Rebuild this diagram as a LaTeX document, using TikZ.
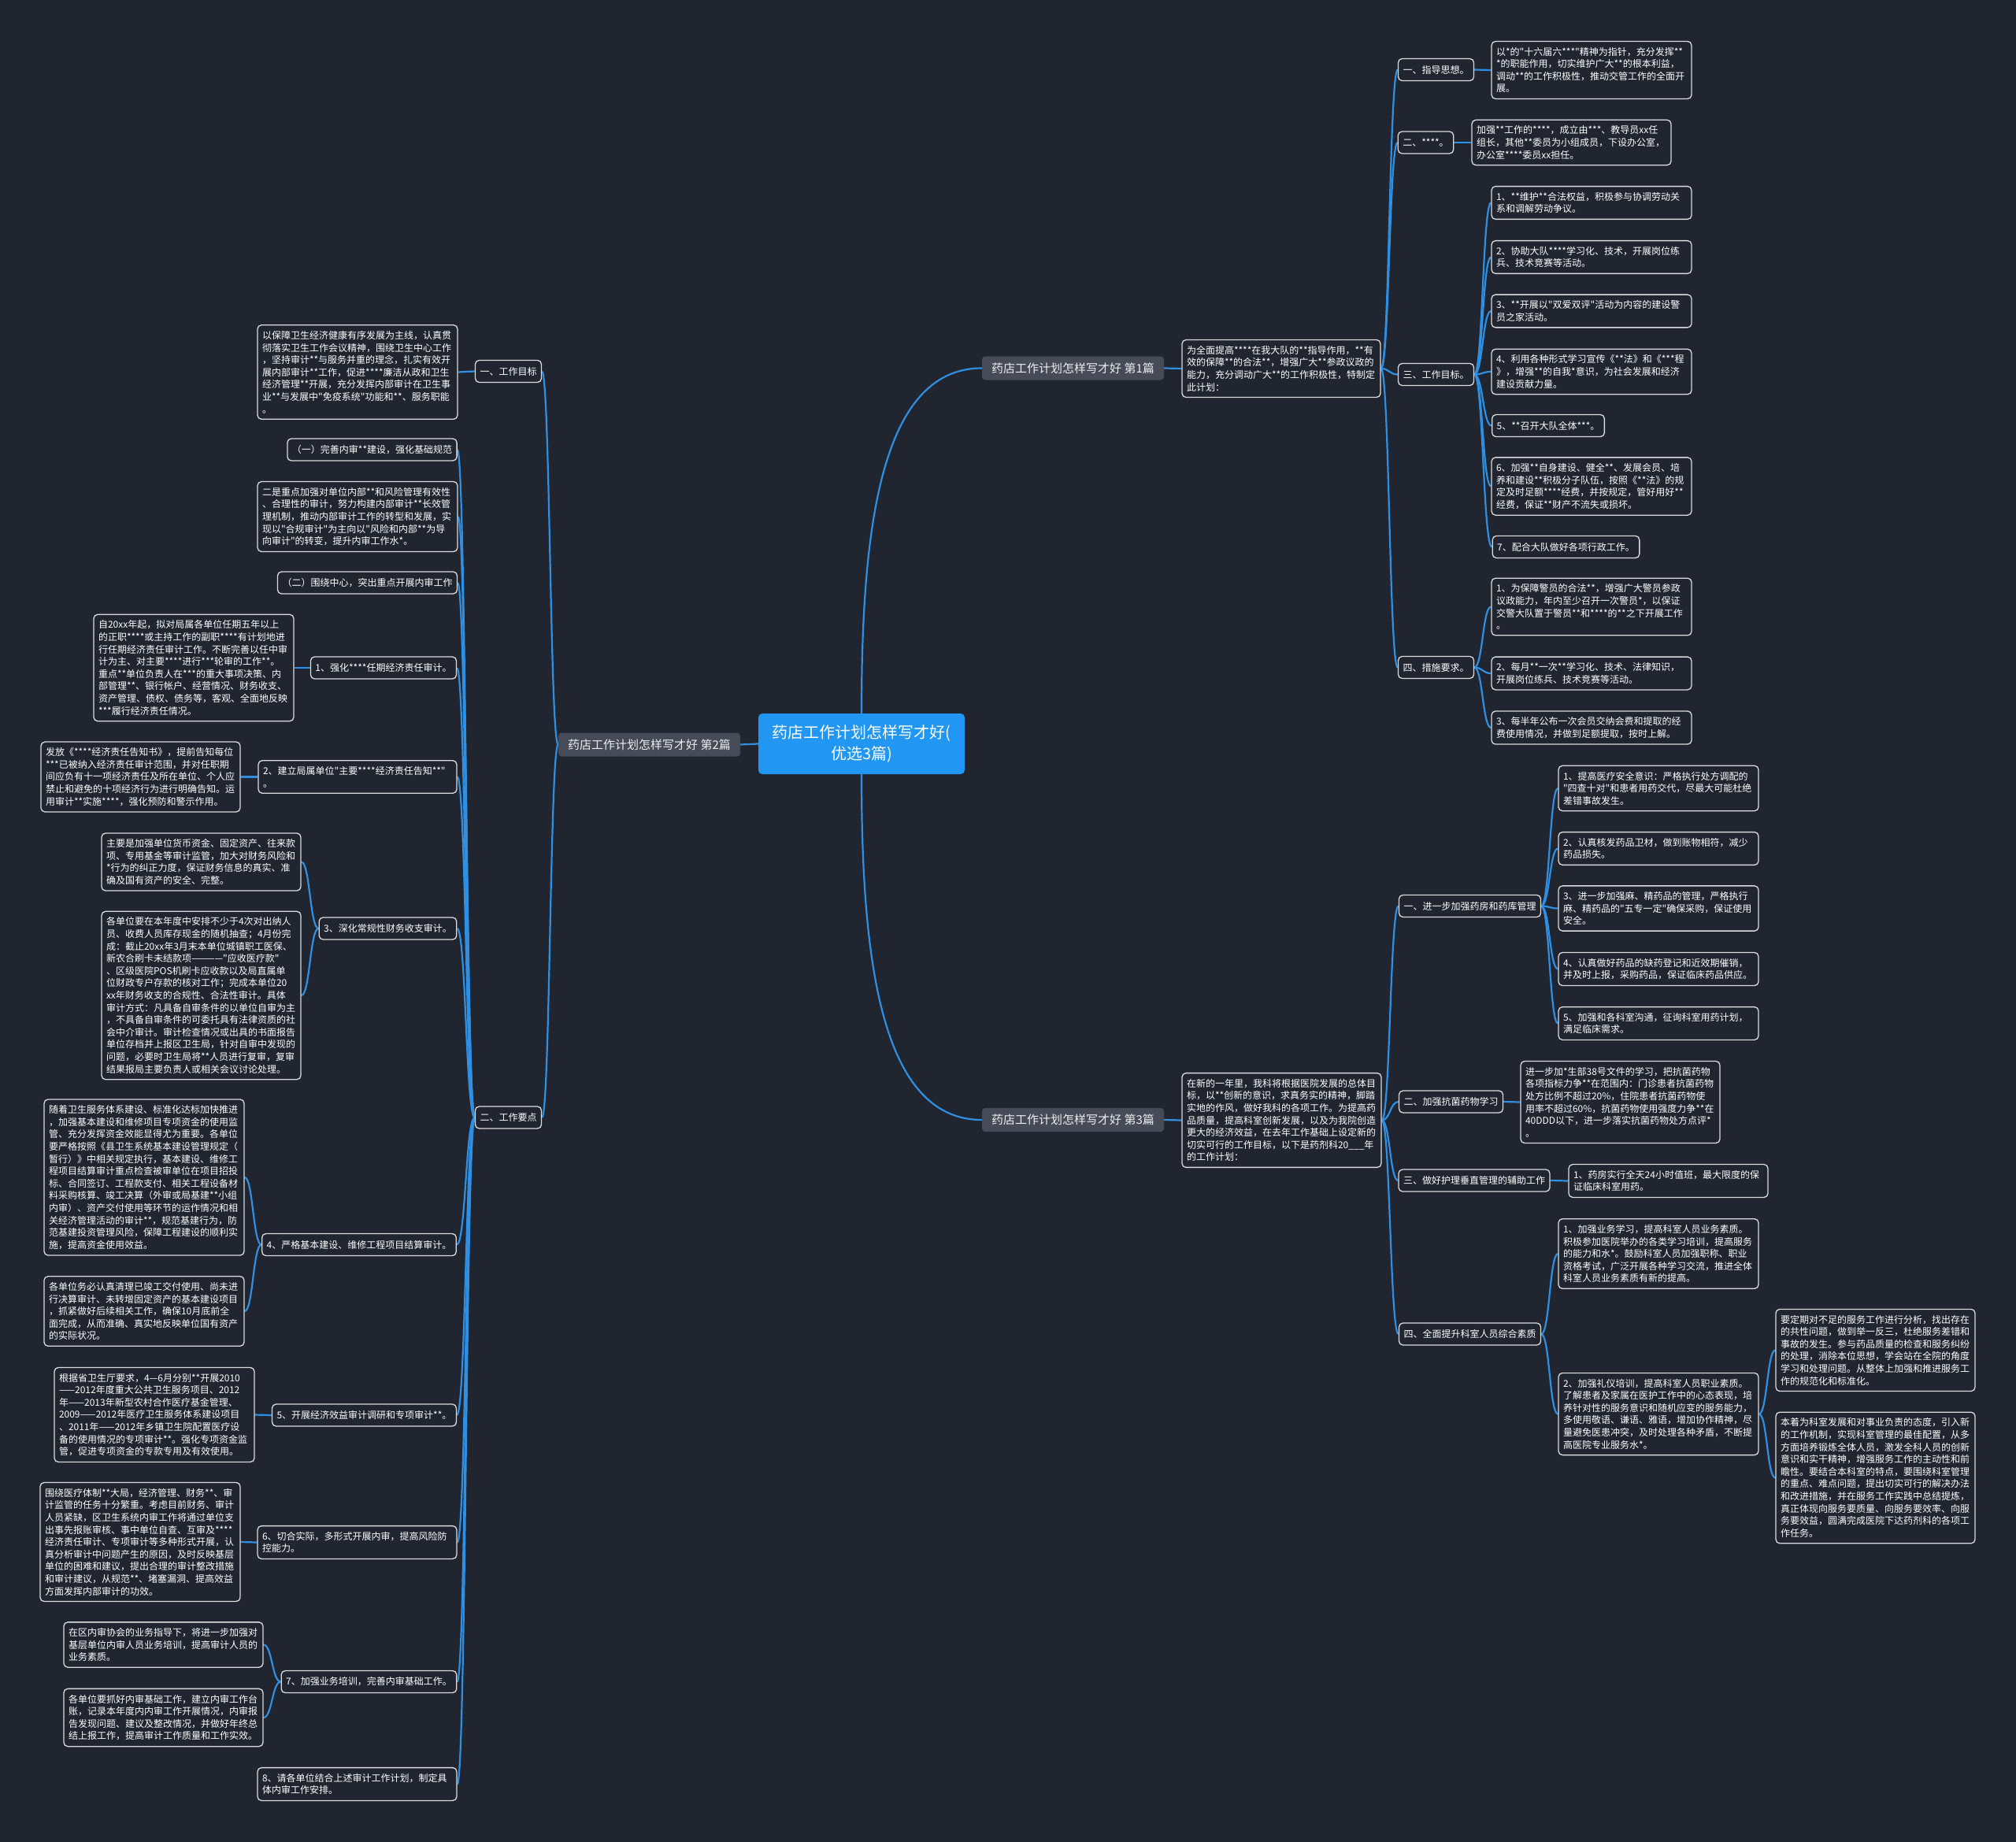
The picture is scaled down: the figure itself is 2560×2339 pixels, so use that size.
\documentclass[tikz,border=0pt]{standalone}
\usepackage{fontspec}
\setmainfont{Noto Sans CJK SC}[Ligatures=TeXOff]
\usetikzlibrary{calc}
\definecolor{bgc}{HTML}{21252F}
\definecolor{leafborder}{HTML}{DCDCDC}
\definecolor{leaffill}{HTML}{21252F}
\definecolor{branchfill}{HTML}{464B57}
\definecolor{branchtext}{HTML}{EEEEEE}
\definecolor{rootfill}{HTML}{2196F3}
\definecolor{conncolor}{HTML}{2F8FE3}
\pgfdeclarelayer{bglayer}
\pgfdeclarelayer{connlayer}
\pgfsetlayers{bglayer,connlayer,main}
\tikzset{
 leaf/.style={draw=leafborder, fill=leaffill, rounded corners=5pt, line width=1.3pt, text=white,
   font=\fontsize{12}{15.6}\selectfont, align=left, inner xsep=6pt, inner ysep=7.5pt},
 lw/.style={leaf, text width=242pt},
 sect/.style={leaf, minimum height=28pt},
 branch/.style={fill=branchfill, text=branchtext, rounded corners=4pt, font=\fontsize{15}{18}\selectfont,
   minimum height=30pt, minimum width=231pt, inner xsep=9pt},
 rootnode/.style={fill=rootfill, text=white, rounded corners=5pt, font=\fontsize{20}{27}\selectfont,
   align=center, minimum width=262pt, minimum height=77pt},
 conn/.style={draw=conncolor, line width=2.2pt}
}
\newcommand\rconn[2]{\draw[conn] (#1.east) .. controls ($(#1.east)!0.5!(#2.west|-#1.east)$) and ($(#2.west)!0.5!(#1.east|-#2.west)$) .. (#2.west);}
\newcommand\lconn[2]{\draw[conn] (#1.west) .. controls ($(#1.west)!0.5!(#2.east|-#1.west)$) and ($(#2.east)!0.5!(#1.west|-#2.east)$) .. (#2.east);}
\begin{document}
\begin{tikzpicture}[x=1pt,y=-1pt]
\useasboundingbox (0,0) rectangle (2560,2339);
\begin{pgfonlayer}{bglayer}
\fill[bgc] (0,0) rectangle (2560,2339);
\end{pgfonlayer}

% root and branches
\node[rootnode] (root) at (1094,944.5) {药店工作计划怎样写才好(\\优选3篇)};
\node[branch] (b1) at (1362.5,467.5) {药店工作计划怎样写才好 第1篇};
\node[branch] (b2) at (824.5,945.5) {药店工作计划怎样写才好 第2篇};
\node[branch] (b3) at (1362.5,1422) {药店工作计划怎样写才好 第3篇};

% ===== branch 1 =====
\node[leaf, text width=240pt] (m1) at (1627,468) {为全面提高****在我大队的**指导作用，**有\\效的保障**的合法**，增强广大**参政议政的\\能力，充分调动广大**的工作积极性，特制定\\此计划：};
\node[sect] (s1) at (1823.5,88.5) {一、指导思想。};
\node[sect] (s2) at (1810.5,181) {二、****。};
\node[sect] (s3) at (1823.5,475.5) {三、工作目标。};
\node[sect] (s4) at (1823.5,847.5) {四、措施要求。};
\node[lw] (l1) at (2021,89) {以*的"十六届六***"精神为指针，充分发挥**\\**的职能作用，切实维护广大**的根本利益，\\调动**的工作积极性，推动交管工作的全面开\\展。};
\node[leaf, text width=241pt] (l2) at (1995.5,181) {加强**工作的****，成立由***、教导员xx任\\组长，其他**委员为小组成员，下设办公室，\\办公室****委员xx担任。};
\node[lw] (i1) at (2021,257.5) {1、**维护**合法权益，积极参与协调劳动关\\系和调解劳动争议。};
\node[lw] (i2) at (2021,326.5) {2、协助大队****学习化、技术，开展岗位练\\兵、技术竞赛等活动。};
\node[lw] (i3) at (2021,395) {3、**开展以"双爱双评"活动为内容的建设警\\员之家活动。};
\node[lw] (i4) at (2021,472) {4、利用各种形式学习宣传《**法》和《***程\\》，增强**的自我*意识，为社会发展和经济\\建设贡献力量。};
\node[sect] (i5) at (1966,540.5) {5、**召开大队全体***。};
\node[lw] (i6) at (2021,617.5) {6、加强**自身建设、健全**、发展会员、培\\养和建设**积极分子队伍，按照《**法》的规\\定及时足额****经费，并按规定，管好用好**\\经费，保证**财产不流失或损坏。};
\node[sect] (i7) at (1988.5,694.5) {7、配合大队做好各项行政工作。};
\node[lw] (j1) at (2021,770.5) {1、为保障警员的合法**，增强广大警员参政\\议政能力，年内至少召开一次警员*，以保证\\交警大队置于警员**和****的**之下开展工作\\。};
\node[lw] (j2) at (2021,855) {2、每月**一次**学习化、技术、法律知识，\\开展岗位练兵、技术竞赛等活动。};
\node[lw] (j3) at (2021,924) {3、每半年公布一次会员交纳会费和提取的经\\费使用情况，并做到足额提取，按时上解。};

% ===== branch 3 =====
\node[leaf, text width=241pt] (m3) at (1627.5,1422.5) {在新的一年里，我科将根据医院发展的总体目\\标，以**创新的意识，求真务实的精神，脚踏\\实地的作风，做好我科的各项工作。为提高药\\品质量，提高科室创新发展，以及为我院创造\\更大的经济效益，在去年工作基础上设定新的\\切实可行的工作目标，以下是药剂科20\_\_\_年\\的工作计划：};
\node[sect] (t1) at (1866.5,1150.5) {一、进一步加强药房和药库管理};
\node[sect] (t2) at (1842.5,1399) {二、加强抗菌药物学习};
\node[sect] (t3) at (1872,1499) {三、做好护理垂直管理的辅助工作};
\node[sect] (t4) at (1866.5,1694) {四、全面提升科室人员综合素质};
\node[lw] (k1) at (2106,1001) {1、提高医疗安全意识：严格执行处方调配的\\"四查十对"和患者用药交代，尽最大可能杜绝\\差错事故发生。};
\node[lw] (k2) at (2106,1077.5) {2、认真核发药品卫材，做到账物相符，减少\\药品损失。};
\node[lw] (k3) at (2106,1153.5) {3、进一步加强麻、精药品的管理，严格执行\\麻、精药品的"五专一定"确保采购，保证使用\\安全。};
\node[lw] (k4) at (2106,1230.5) {4、认真做好药品的缺药登记和近效期催销，\\并及时上报，采购药品，保证临床药品供应。};
\node[lw] (k5) at (2106,1299.5) {5、加强和各科室沟通，征询科室用药计划，\\满足临床需求。};
\node[leaf, text width=241pt] (t2l) at (2057.5,1399.5) {进一步加*生部38号文件的学习，把抗菌药物\\各项指标力争**在范围内：门诊患者抗菌药物\\处方比例不超过20\%，住院患者抗菌药物使\\用率不超过60\%，抗菌药物使用强度力争**在\\40DDD以下，进一步落实抗菌药物处方点评*\\*。};
\node[leaf, text width=241pt] (t3l) at (2118.5,1499.5) {1、药房实行全天24小时值班，最大限度的保\\证临床科室用药。};
\node[lw] (t4a) at (2106,1592) {1、加强业务学习，提高科室人员业务素质。\\积极参加医院举办的各类学习培训，提高服务\\的能力和水*。鼓励科室人员加强职称、职业\\资格考试，广泛开展各种学习交流，推进全体\\科室人员业务素质有新的提高。};
\node[lw] (t4b) at (2106,1795.5) {2、加强礼仪培训，提高科室人员职业素质。\\了解患者及家属在医护工作中的心态表现，培\\养针对性的服务意识和随机应变的服务能力，\\多使用敬语、谦语、雅语，增加协作精神，尽\\量避免医患冲突，及时处理各种矛盾，不断提\\高医院专业服务水*。};
\node[leaf, text width=241pt] (r1) at (2381.5,1714.5) {要定期对不足的服务工作进行分析，找出存在\\的共性问题，做到举一反三，杜绝服务差错和\\事故的发生。参与药品质量的检查和服务纠纷\\的处理，消除本位思想，学会站在全院的角度\\学习和处理问题。从整体上加强和推进服务工\\作的规范化和标准化。};
\node[leaf, text width=241pt] (r2) at (2381.5,1876.5) {本着为科室发展和对事业负责的态度，引入新\\的工作机制，实现科室管理的最佳配置，从多\\方面培养锻炼全体人员，激发全科人员的创新\\意识和实干精神，增强服务工作的主动性和前\\瞻性。要结合本科室的特点，要围绕科室管理\\的重点、难点问题，提出切实可行的解决办法\\和改进措施，并在服务工作实践中总结提炼，\\真正体现向服务要质量、向服务要效率、向服\\务要效益，圆满完成医院下达药剂科的各项工\\作任务。};

% ===== branch 2 =====
\node[sect] (g1) at (645.5,471.5) {一、工作目标};
\node[sect] (g2) at (645.5,1419) {二、工作要点};
\node[lw] (w1) at (454,472.5) {以保障卫生经济健康有序发展为主线，认真贯\\彻落实卫生工作会议精神，围绕卫生中心工作\\，坚持审计**与服务并重的理念，扎实有效开\\展内部审计**工作，促进****廉洁从政和卫生\\经济管理**开展，充分发挥内部审计在卫生事\\业**与发展中"免疫系统"功能和**、服务职能\\。};
\node[sect] (c1) at (472.5,571) {（一）完善内审**建设，强化基础规范};
\node[lw] (c2) at (454,656) {二是重点加强对单位内部**和风险管理有效性\\、合理性的审计，努力构建内部审计**长效管\\理机制，推动内部审计工作的转型和发展，实\\现以"合规审计"为主向以"风险和内部**为导\\向审计"的转变，提升内审工作水*。};
\node[sect] (c3) at (466.5,740) {（二）围绕中心，突出重点开展内审工作};
\node[sect] (c4) at (487,848) {1、强化****任期经济责任审计。};
\node[lw] (d4) at (246,848) {自20xx年起，拟对局属各单位任期五年以上\\的正职****或主持工作的副职****有计划地进\\行任期经济责任审计工作。不断完善以任中审\\计为主、对主要****进行***轮审的工作**。\\重点**单位负责人在***的重大事项决策、内\\部管理**、银行帐户、经营情况、财务收支、\\资产管理、债权、债务等，客观、全面地反映\\****履行经济责任情况。};
\node[leaf, text width=240pt] (c5) at (454,986.5) {2、建立局属单位"主要****经济责任告知**"\\。};
\node[leaf, text width=241pt] (d5) at (178.5,986.5) {发放《****经济责任告知书》，提前告知每位\\****已被纳入经济责任审计范围，并对任职期\\间应负有十一项经济责任及所在单位、个人应\\禁止和避免的十项经济行为进行明确告知。运\\用审计**实施****，强化预防和警示作用。};
\node[sect] (c6) at (492.5,1179) {3、深化常规性财务收支审计。};
\node[leaf, text width=241pt] (d6a) at (255.5,1094.5) {主要是加强单位货币资金、固定资产、往来款\\项、专用基金等审计监管，加大对财务风险和\\**行为的纠正力度，保证财务信息的真实、准\\确及国有资产的安全、完整。};
\node[leaf, text width=241pt] (d6b) at (255.5,1264) {各单位要在本年度中安排不少于4次对出纳人\\员、收费人员库存现金的随机抽查；4月份完\\成：截止20xx年3月末本单位城镇职工医保、\\新农合刷卡未结款项————"应收医疗款"\\、区级医院POS机刷卡应收款以及局直属单\\位财政专户存款的核对工作；完成本单位20\\xx年财务收支的合规性、合法性审计。具体\\审计方式：凡具备自审条件的以单位自审为主\\，不具备自审条件的可委托具有法律资质的社\\会中介审计。审计检查情况或出具的书面报告\\单位存档并上报区卫生局，针对自审中发现的\\问题，必要时卫生局将**人员进行复审，复审\\结果报局主要负责人或相关会议讨论处理。};
\node[sect] (c7) at (456,1580.5) {4、严格基本建设、维修工程项目结算审计。};
\node[lw] (d7a) at (183,1495) {随着卫生服务体系建设、标准化达标加快推进\\，加强基本建设和维修项目专项资金的使用监\\管、充分发挥资金效能显得尤为重要。各单位\\要严格按照《县卫生系统基本建设管理规定（\\暂行）》中相关规定执行，基本建设、维修工\\程项目结算审计重点检查被审单位在项目招投\\标、合同签订、工程款支付、相关工程设备材\\料采购核算、竣工决算（外审或局基建**小组\\内审）、资产交付使用等环节的运作情况和相\\关经济管理活动的审计**，规范基建行为，防\\范基建投资管理风险，保障工程建设的顺利实\\施，提高资金使用效益。};
\node[lw] (d7b) at (183,1665) {各单位务必认真清理已竣工交付使用、尚未进\\行决算审计、未转增固定资产的基本建设项目\\，抓紧做好后续相关工作，确保10月底前全\\面完成，从而准确、真实地反映单位国有资产\\的实际状况。};
\node[sect] (c8) at (462.5,1797) {5、开展经济效益审计调研和专项审计**。};
\node[lw] (d8) at (196,1796.5) {根据省卫生厅要求，4—6月分别**开展2010\\——2012年度重大公共卫生服务项目、2012\\年——2013年新型农村合作医疗基金管理、\\2009——2012年医疗卫生服务体系建设项目\\、2011年——2012年乡镇卫生院配置医疗设\\备的使用情况的专项审计**。强化专项资金监\\管，促进专项资金的专款专用及有效使用。};
\node[leaf, text width=241pt] (c9) at (453.5,1958.5) {6、切合实际，多形式开展内审，提高风险防\\控能力。};
\node[lw] (d9) at (178,1958) {围绕医疗体制**大局，经济管理、财务**、审\\计监管的任务十分繁重。考虑目前财务、审计\\人员紧缺，区卫生系统内审工作将通过单位支\\出事先报账审核、事中单位自查、互审及****\\经济责任审计、专项审计等多种形式开展，认\\真分析审计中问题产生的原因，及时反映基层\\单位的困难和建议，提出合理的审计整改措施\\和审计建议，从规范**、堵塞漏洞、提高效益\\方面发挥内部审计的功效。};
\node[sect] (c10) at (468.5,2135.5) {7、加强业务培训，完善内审基础工作。};
\node[leaf, text width=241pt] (d10a) at (207.5,2088.5) {在区内审协会的业务指导下，将进一步加强对\\基层单位内审人员业务培训，提高审计人员的\\业务素质。};
\node[leaf, text width=241pt] (d10b) at (207.5,2181) {各单位要抓好内审基础工作，建立内审工作台\\账，记录本年度内内审工作开展情况，内审报\\告发现问题、建议及整改情况，并做好年终总\\结上报工作，提高审计工作质量和工作实效。};
\node[leaf, text width=241pt] (c11) at (453.5,2265.5) {8、请各单位结合上述审计工作计划，制定具\\体内审工作安排。};

% ===== connectors =====
\begin{pgfonlayer}{connlayer}
\draw[conn] (root.north) .. controls +(0,-230) and +(-130,0) .. (b1.west);
\draw[conn] (root.south) .. controls +(0,230) and +(-130,0) .. (b3.west);
\draw[conn] (root.west) -- (b2.east);
\rconn{b1}{m1}
\rconn{m1}{s1}\rconn{m1}{s2}\rconn{m1}{s3}\rconn{m1}{s4}
\rconn{s1}{l1}\rconn{s2}{l2}
\rconn{s3}{i1}\rconn{s3}{i2}\rconn{s3}{i3}\rconn{s3}{i4}\rconn{s3}{i5}\rconn{s3}{i6}\rconn{s3}{i7}
\rconn{s4}{j1}\rconn{s4}{j2}\rconn{s4}{j3}
\rconn{b3}{m3}
\rconn{m3}{t1}\rconn{m3}{t2}\rconn{m3}{t3}\rconn{m3}{t4}
\rconn{t1}{k1}\rconn{t1}{k2}\rconn{t1}{k3}\rconn{t1}{k4}\rconn{t1}{k5}
\rconn{t2}{t2l}\rconn{t3}{t3l}
\rconn{t4}{t4a}\rconn{t4}{t4b}
\rconn{t4b}{r1}\rconn{t4b}{r2}
\lconn{b2}{g1}\lconn{b2}{g2}
\lconn{g1}{w1}
\lconn{g2}{c1}\lconn{g2}{c2}\lconn{g2}{c3}\lconn{g2}{c4}\lconn{g2}{c5}\lconn{g2}{c6}
\lconn{g2}{c7}\lconn{g2}{c8}\lconn{g2}{c9}\lconn{g2}{c10}\lconn{g2}{c11}
\lconn{c4}{d4}\lconn{c5}{d5}
\lconn{c6}{d6a}\lconn{c6}{d6b}
\lconn{c7}{d7a}\lconn{c7}{d7b}
\lconn{c8}{d8}\lconn{c9}{d9}
\lconn{c10}{d10a}\lconn{c10}{d10b}
\end{pgfonlayer}
\end{tikzpicture}
\end{document}
